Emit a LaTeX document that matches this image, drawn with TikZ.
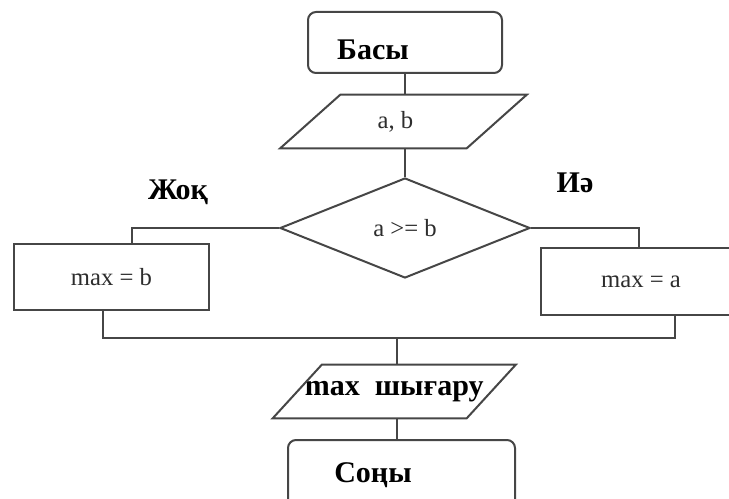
\documentclass[tikz,border=0pt]{standalone}
\usepackage{fontspec}
\setmainfont{Liberation Serif}
\usetikzlibrary{shapes.geometric,calc}
\definecolor{edge}{RGB}{70,70,70}
\definecolor{ink}{RGB}{45,45,45}
\begin{document}
\begin{tikzpicture}[x=0.75pt,y=-0.75pt,
  box/.style={draw=edge,line width=1.5pt,fill=white,inner sep=0pt,
    text=ink,font=\fontsize{18.5}{21}\selectfont},
  terminal/.style={box,rectangle,rounded corners=6pt},
  process/.style={box,rectangle},
  decision/.style={box,diamond,aspect=2.5},
  iobody/.style={rectangle,inner sep=0pt,text=ink,font=\fontsize{18.5}{21}\selectfont},
  ioline/.style={draw=edge,line width=1.5pt,line join=miter},
  conn/.style={draw=edge,line width=1.5pt},
  boldtext/.style={inner sep=0pt,text=black,font=\bfseries\fontsize{22.5}{26}\selectfont}
]
\useasboundingbox (0,0) rectangle (729,499);
\clip (0,0) rectangle (729,499);

% terminals, processes and the decision
\node[terminal,minimum width=145.5pt,minimum height=45.75pt] (start) at (405,42.5) {};
\node[boldtext] (starttext) at (373,50) {Басы};
\node[decision,minimum width=187.5pt,minimum height=75pt] (test) at (405,228) {a >= b};
\node[process,minimum width=146.25pt,minimum height=49.5pt] (maxb) at (111.5,277) {max = b};
\node[process,minimum width=150pt,minimum height=50.25pt] (maxa) at (641,281.5) {max = a};
\node[terminal,minimum width=170.25pt,minimum height=54pt] (stop) at (401.5,476) {};
\node[boldtext] (stoptext) at (373,475) {Соңы};

% input / output parallelograms: body node plus slanted outline
\node[iobody,minimum width=139.5pt,minimum height=39.75pt] (input) at (403.5,121.5) {a, b\hspace*{12pt}};
\draw[ioline] ($(input.north west)+(30,0)$) -- ($(input.north east)+(30,0)$)
  -- ($(input.south east)+(-30,0)$) -- ($(input.south west)+(-30,0)$) -- cycle;
\node[iobody,minimum width=145.1pt,minimum height=39.75pt,text=black,
  font=\bfseries\fontsize{22.5}{26}\selectfont] (output) at (394.25,391.5) {max\ \ шығару};
\draw[ioline] ($(output.north west)+(24.5,0)$) -- ($(output.north east)+(24.5,0)$)
  -- ($(output.south east)+(-24.5,0)$) -- ($(output.south west)+(-24.5,0)$) -- cycle;

% branch labels
\node[boldtext] (no) at (178,192) {Жоқ};
\node[boldtext] (yes) at (575,183) {Иә};

% connectors
\coordinate (bL) at ($(maxb.south)+(-8.5,0)$);
\coordinate (bR) at ($(maxa.south)+(34,0)$);
\coordinate (tL) at ($(maxb.north)+(20.5,0)$);
\coordinate (tR) at ($(maxa.north)+(-2,0)$);
\coordinate (merge) at (397,338);
\draw[conn] (start.south) -- (start.south |- input.north);
\draw[conn] (input.south -| test.north) -- (test.north);
\draw[conn] (test.west) -| (tL);
\draw[conn] (test.east) -| (tR);
\draw[conn] (bL) |- (merge) -| (bR);
\draw[conn] (merge) -- (merge |- output.north);
\draw[conn] (output.south -| merge) -- (merge |- stop.north);
\end{tikzpicture}
\end{document}
